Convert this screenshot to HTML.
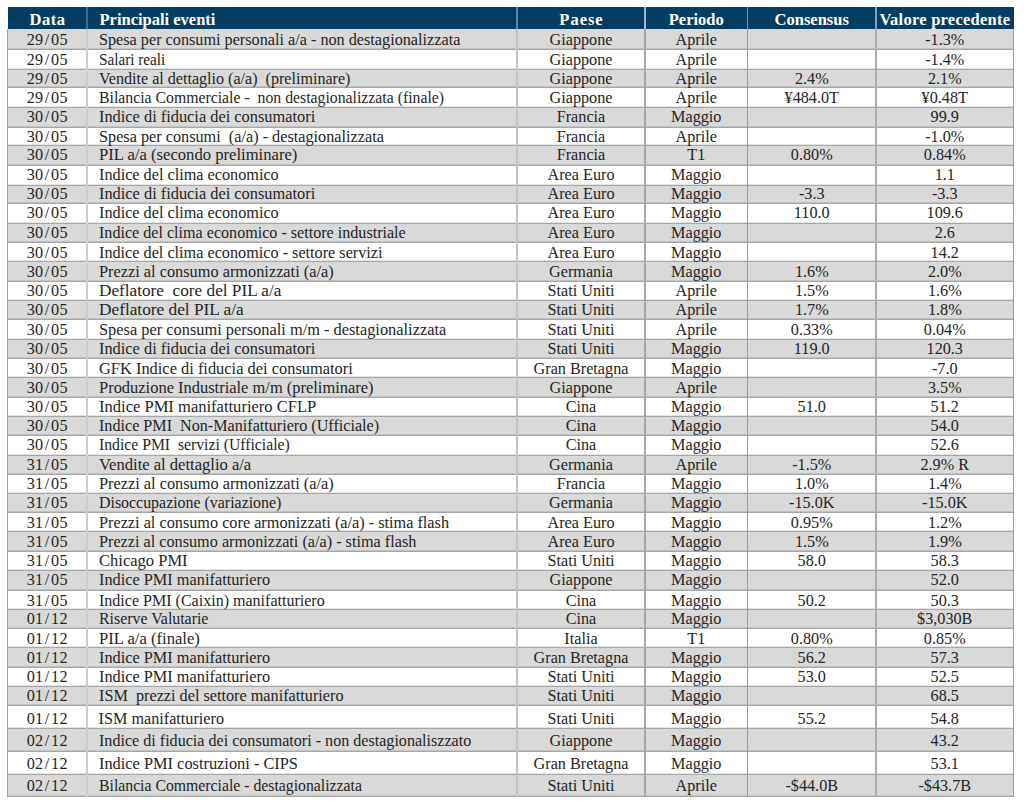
<!DOCTYPE html>
<html><head><meta charset="utf-8"><title>Calendario</title>
<style>
html,body{margin:0;padding:0;background:#fff;width:1024px;height:802px;overflow:hidden}
.t{position:absolute;white-space:pre;font-family:"Liberation Serif",serif;font-size:16.2px;line-height:20px;height:20px;color:#262626}
.h{position:absolute;white-space:pre;font-family:"Liberation Serif",serif;font-weight:bold;font-size:16.5px;line-height:20px;height:20px;color:#fff}
.c{text-align:center}
.ev{transform-origin:0 0}
.d{letter-spacing:.3px}
.sl{margin:0 1.5px 0 1.2px}
.r{position:absolute;left:7.5px;width:1006.0px}
.g{background:#d9d9d9}
.hl{position:absolute;left:7.5px;width:1006.0px;height:1px;background:#a6a6a6;box-shadow:0 -1px 0 rgba(0,0,0,.1)}
.vl{position:absolute;width:1px;background:#a6a6a6}
</style></head><body>

<div style="position:absolute;left:7.5px;top:7px;width:1006.0px;height:22px;background:#043d62"></div>
<div class="r g" style="top:29.00px;height:20.30px"></div>
<div class="r g" style="top:69.30px;height:18.30px"></div>
<div class="r g" style="top:107.50px;height:19.50px"></div>
<div class="r g" style="top:145.60px;height:20.00px"></div>
<div class="r g" style="top:185.00px;height:18.50px"></div>
<div class="r g" style="top:223.40px;height:19.50px"></div>
<div class="r g" style="top:261.60px;height:20.30px"></div>
<div class="r g" style="top:300.40px;height:19.20px"></div>
<div class="r g" style="top:339.10px;height:19.30px"></div>
<div class="r g" style="top:377.80px;height:19.50px"></div>
<div class="r g" style="top:416.00px;height:19.60px"></div>
<div class="r g" style="top:455.00px;height:19.40px"></div>
<div class="r g" style="top:493.75px;height:18.75px"></div>
<div class="r g" style="top:531.90px;height:19.35px"></div>
<div class="r g" style="top:570.60px;height:19.40px"></div>
<div class="r g" style="top:609.00px;height:19.50px"></div>
<div class="r g" style="top:647.90px;height:19.20px"></div>
<div class="r g" style="top:686.50px;height:19.20px"></div>
<div class="r g" style="top:728.00px;height:23.50px"></div>
<div class="r g" style="top:774.20px;height:22.10px"></div>
<div class="hl" style="top:48.80px"></div>
<div class="hl" style="top:68.80px"></div>
<div class="hl" style="top:87.10px"></div>
<div class="hl" style="top:107.00px"></div>
<div class="hl" style="top:126.50px"></div>
<div class="hl" style="top:145.10px"></div>
<div class="hl" style="top:165.10px"></div>
<div class="hl" style="top:184.50px"></div>
<div class="hl" style="top:203.00px"></div>
<div class="hl" style="top:222.90px"></div>
<div class="hl" style="top:242.40px"></div>
<div class="hl" style="top:261.10px"></div>
<div class="hl" style="top:281.40px"></div>
<div class="hl" style="top:299.90px"></div>
<div class="hl" style="top:319.10px"></div>
<div class="hl" style="top:338.60px"></div>
<div class="hl" style="top:357.90px"></div>
<div class="hl" style="top:377.30px"></div>
<div class="hl" style="top:396.80px"></div>
<div class="hl" style="top:415.50px"></div>
<div class="hl" style="top:435.10px"></div>
<div class="hl" style="top:454.50px"></div>
<div class="hl" style="top:473.90px"></div>
<div class="hl" style="top:493.25px"></div>
<div class="hl" style="top:512.00px"></div>
<div class="hl" style="top:531.40px"></div>
<div class="hl" style="top:550.75px"></div>
<div class="hl" style="top:570.10px"></div>
<div class="hl" style="top:589.50px"></div>
<div class="hl" style="top:608.50px"></div>
<div class="hl" style="top:628.00px"></div>
<div class="hl" style="top:647.40px"></div>
<div class="hl" style="top:666.60px"></div>
<div class="hl" style="top:686.00px"></div>
<div class="hl" style="top:705.20px"></div>
<div class="hl" style="top:727.50px"></div>
<div class="hl" style="top:751.00px"></div>
<div class="hl" style="top:773.70px"></div>
<div class="hl" style="top:795.80px"></div>
<div class="vl" style="left:7px;width:1px;top:29px;height:767.80px;background:#a0a0a0"></div>
<div class="vl" style="left:86px;width:2px;top:29px;height:767.80px;background:#cdcdcd"></div>
<div class="vl" style="left:516px;width:2px;top:29px;height:767.80px;background:#c4c4c4"></div>
<div class="vl" style="left:644px;width:2px;top:29px;height:767.80px;background:#a8a8a8"></div>
<div class="vl" style="left:747px;width:1px;top:29px;height:767.80px;background:#9a9a9a"></div>
<div class="vl" style="left:875px;width:2px;top:29px;height:767.80px;background:#ababab"></div>
<div class="vl" style="left:1013px;width:1px;top:29px;height:767.80px;background:#9c9c9c"></div>
<div class="vl" style="left:86px;width:2px;top:7px;height:22px;background:#3f6d96"></div>
<div class="vl" style="left:516px;width:2px;top:7px;height:22px;background:#5b86ad"></div>
<div class="vl" style="left:644px;width:2px;top:7px;height:22px;background:#9db8d0"></div>
<div class="vl" style="left:747px;width:1px;top:7px;height:22px;background:#6f96ba"></div>
<div class="vl" style="left:875px;width:2px;top:7px;height:22px;background:#7fa3c4"></div>
<div class="h c" style="left:7.5px;width:79.5px;top:9.83px;letter-spacing:0.6px;text-indent:0.6px">Data</div>
<div class="h" style="left:99.5px;top:9.83px">Principali eventi</div>
<div class="h c" style="left:517px;width:128px;top:9.83px;letter-spacing:1.0px;text-indent:1.0px">Paese</div>
<div class="h c" style="left:645px;width:102.5px;top:9.83px;letter-spacing:0px;text-indent:0px">Periodo</div>
<div class="h c" style="left:747.5px;width:128.5px;top:9.83px;letter-spacing:0px;text-indent:0px">Consensus</div>
<div class="h c" style="left:876px;width:137.5px;top:9.83px;letter-spacing:0.25px;text-indent:0.25px">Valore precedente</div>
<div class="t c d" style="left:7.5px;width:79.5px;top:29.53px">29<span class="sl">/</span>05</div>
<div class="t ev" style="left:98.6px;top:29.53px;transform:scaleX(1.0011)">Spesa per consumi personali a/a - non destagionalizzata</div>
<div class="t c" style="left:517px;width:128px;top:29.53px">Giappone</div>
<div class="t c" style="left:645px;width:102.5px;top:29.53px">Aprile</div>
<div class="t c" style="left:876px;width:137.5px;top:29.53px">-1.3%</div>
<div class="t c d" style="left:7.5px;width:79.5px;top:49.53px">29<span class="sl">/</span>05</div>
<div class="t ev" style="left:98.6px;top:49.53px;transform:scaleX(0.9391)">Salari reali</div>
<div class="t c" style="left:517px;width:128px;top:49.53px">Giappone</div>
<div class="t c" style="left:645px;width:102.5px;top:49.53px">Aprile</div>
<div class="t c" style="left:876px;width:137.5px;top:49.53px">-1.4%</div>
<div class="t c d" style="left:7.5px;width:79.5px;top:68.53px">29<span class="sl">/</span>05</div>
<div class="t ev" style="left:98.6px;top:68.53px;transform:scaleX(0.9937)">Vendite al dettaglio (a/a)  (preliminare)</div>
<div class="t c" style="left:517px;width:128px;top:68.53px">Giappone</div>
<div class="t c" style="left:645px;width:102.5px;top:68.53px">Aprile</div>
<div class="t c" style="left:747.5px;width:128.5px;top:68.53px">2.4%</div>
<div class="t c" style="left:876px;width:137.5px;top:68.53px">2.1%</div>
<div class="t c d" style="left:7.5px;width:79.5px;top:87.53px">29<span class="sl">/</span>05</div>
<div class="t ev" style="left:98.6px;top:87.53px;transform:scaleX(0.9744)">Bilancia Commerciale -  non destagionalizzata (finale)</div>
<div class="t c" style="left:517px;width:128px;top:87.53px">Giappone</div>
<div class="t c" style="left:645px;width:102.5px;top:87.53px">Aprile</div>
<div class="t c" style="left:747.5px;width:128.5px;top:87.53px">¥484.0T</div>
<div class="t c" style="left:876px;width:137.5px;top:87.53px">¥0.48T</div>
<div class="t c d" style="left:7.5px;width:79.5px;top:106.53px">30<span class="sl">/</span>05</div>
<div class="t ev" style="left:98.6px;top:106.53px;transform:scaleX(1.0104)">Indice di fiducia dei consumatori</div>
<div class="t c" style="left:517px;width:128px;top:106.53px">Francia</div>
<div class="t c" style="left:645px;width:102.5px;top:106.53px">Maggio</div>
<div class="t c" style="left:876px;width:137.5px;top:106.53px">99.9</div>
<div class="t c d" style="left:7.5px;width:79.5px;top:126.53px">30<span class="sl">/</span>05</div>
<div class="t ev" style="left:98.6px;top:126.53px;transform:scaleX(1.0028)">Spesa per consumi  (a/a) - destagionalizzata</div>
<div class="t c" style="left:517px;width:128px;top:126.53px">Francia</div>
<div class="t c" style="left:645px;width:102.5px;top:126.53px">Aprile</div>
<div class="t c" style="left:876px;width:137.5px;top:126.53px">-1.0%</div>
<div class="t c d" style="left:7.5px;width:79.5px;top:145.03px">30<span class="sl">/</span>05</div>
<div class="t ev" style="left:98.6px;top:145.03px;transform:scaleX(1.0271)">PIL a/a (secondo preliminare)</div>
<div class="t c" style="left:517px;width:128px;top:145.03px">Francia</div>
<div class="t c" style="left:645px;width:102.5px;top:145.03px">T1</div>
<div class="t c" style="left:747.5px;width:128.5px;top:145.03px">0.80%</div>
<div class="t c" style="left:876px;width:137.5px;top:145.03px">0.84%</div>
<div class="t c d" style="left:7.5px;width:79.5px;top:164.53px">30<span class="sl">/</span>05</div>
<div class="t ev" style="left:98.6px;top:164.53px;transform:scaleX(1.0022)">Indice del clima economico</div>
<div class="t c" style="left:517px;width:128px;top:164.53px">Area Euro</div>
<div class="t c" style="left:645px;width:102.5px;top:164.53px">Maggio</div>
<div class="t c" style="left:876px;width:137.5px;top:164.53px">1.1</div>
<div class="t c d" style="left:7.5px;width:79.5px;top:183.53px">30<span class="sl">/</span>05</div>
<div class="t ev" style="left:98.6px;top:183.53px;transform:scaleX(1.0104)">Indice di fiducia dei consumatori</div>
<div class="t c" style="left:517px;width:128px;top:183.53px">Area Euro</div>
<div class="t c" style="left:645px;width:102.5px;top:183.53px">Maggio</div>
<div class="t c" style="left:747.5px;width:128.5px;top:183.53px">-3.3</div>
<div class="t c" style="left:876px;width:137.5px;top:183.53px">-3.3</div>
<div class="t c d" style="left:7.5px;width:79.5px;top:203.03px">30<span class="sl">/</span>05</div>
<div class="t ev" style="left:98.6px;top:203.03px;transform:scaleX(1.0022)">Indice del clima economico</div>
<div class="t c" style="left:517px;width:128px;top:203.03px">Area Euro</div>
<div class="t c" style="left:645px;width:102.5px;top:203.03px">Maggio</div>
<div class="t c" style="left:747.5px;width:128.5px;top:203.03px">110.0</div>
<div class="t c" style="left:876px;width:137.5px;top:203.03px">109.6</div>
<div class="t c d" style="left:7.5px;width:79.5px;top:223.03px">30<span class="sl">/</span>05</div>
<div class="t ev" style="left:98.6px;top:223.03px;transform:scaleX(0.9948)">Indice del clima economico - settore industriale</div>
<div class="t c" style="left:517px;width:128px;top:223.03px">Area Euro</div>
<div class="t c" style="left:645px;width:102.5px;top:223.03px">Maggio</div>
<div class="t c" style="left:876px;width:137.5px;top:223.03px">2.6</div>
<div class="t c d" style="left:7.5px;width:79.5px;top:242.53px">30<span class="sl">/</span>05</div>
<div class="t ev" style="left:98.6px;top:242.53px;transform:scaleX(1.0014)">Indice del clima economico - settore servizi</div>
<div class="t c" style="left:517px;width:128px;top:242.53px">Area Euro</div>
<div class="t c" style="left:645px;width:102.5px;top:242.53px">Maggio</div>
<div class="t c" style="left:876px;width:137.5px;top:242.53px">14.2</div>
<div class="t c d" style="left:7.5px;width:79.5px;top:261.53px">30<span class="sl">/</span>05</div>
<div class="t ev" style="left:98.6px;top:261.53px;transform:scaleX(1.0078)">Prezzi al consumo armonizzati (a/a)</div>
<div class="t c" style="left:517px;width:128px;top:261.53px">Germania</div>
<div class="t c" style="left:645px;width:102.5px;top:261.53px">Maggio</div>
<div class="t c" style="left:747.5px;width:128.5px;top:261.53px">1.6%</div>
<div class="t c" style="left:876px;width:137.5px;top:261.53px">2.0%</div>
<div class="t c d" style="left:7.5px;width:79.5px;top:280.53px">30<span class="sl">/</span>05</div>
<div class="t ev" style="left:98.6px;top:280.53px;transform:scaleX(1.0635)">Deflatore  core del PIL a/a</div>
<div class="t c" style="left:517px;width:128px;top:280.53px">Stati Uniti</div>
<div class="t c" style="left:645px;width:102.5px;top:280.53px">Aprile</div>
<div class="t c" style="left:747.5px;width:128.5px;top:280.53px">1.5%</div>
<div class="t c" style="left:876px;width:137.5px;top:280.53px">1.6%</div>
<div class="t c d" style="left:7.5px;width:79.5px;top:299.53px">30<span class="sl">/</span>05</div>
<div class="t ev" style="left:98.6px;top:299.53px;transform:scaleX(1.0672)">Deflatore del PIL a/a</div>
<div class="t c" style="left:517px;width:128px;top:299.53px">Stati Uniti</div>
<div class="t c" style="left:645px;width:102.5px;top:299.53px">Aprile</div>
<div class="t c" style="left:747.5px;width:128.5px;top:299.53px">1.7%</div>
<div class="t c" style="left:876px;width:137.5px;top:299.53px">1.8%</div>
<div class="t c d" style="left:7.5px;width:79.5px;top:319.53px">30<span class="sl">/</span>05</div>
<div class="t ev" style="left:98.6px;top:319.53px;transform:scaleX(1.0111)">Spesa per consumi personali m/m - destagionalizzata</div>
<div class="t c" style="left:517px;width:128px;top:319.53px">Stati Uniti</div>
<div class="t c" style="left:645px;width:102.5px;top:319.53px">Aprile</div>
<div class="t c" style="left:747.5px;width:128.5px;top:319.53px">0.33%</div>
<div class="t c" style="left:876px;width:137.5px;top:319.53px">0.04%</div>
<div class="t c d" style="left:7.5px;width:79.5px;top:338.53px">30<span class="sl">/</span>05</div>
<div class="t ev" style="left:98.6px;top:338.53px;transform:scaleX(1.0104)">Indice di fiducia dei consumatori</div>
<div class="t c" style="left:517px;width:128px;top:338.53px">Stati Uniti</div>
<div class="t c" style="left:645px;width:102.5px;top:338.53px">Maggio</div>
<div class="t c" style="left:747.5px;width:128.5px;top:338.53px">119.0</div>
<div class="t c" style="left:876px;width:137.5px;top:338.53px">120.3</div>
<div class="t c d" style="left:7.5px;width:79.5px;top:358.53px">30<span class="sl">/</span>05</div>
<div class="t ev" style="left:98.6px;top:358.53px;transform:scaleX(1.0137)">GFK Indice di fiducia dei consumatori</div>
<div class="t c" style="left:517px;width:128px;top:358.53px">Gran Bretagna</div>
<div class="t c" style="left:645px;width:102.5px;top:358.53px">Maggio</div>
<div class="t c" style="left:876px;width:137.5px;top:358.53px">-7.0</div>
<div class="t c d" style="left:7.5px;width:79.5px;top:377.53px">30<span class="sl">/</span>05</div>
<div class="t ev" style="left:98.6px;top:377.53px;transform:scaleX(1.0164)">Produzione Industriale m/m (preliminare)</div>
<div class="t c" style="left:517px;width:128px;top:377.53px">Giappone</div>
<div class="t c" style="left:645px;width:102.5px;top:377.53px">Aprile</div>
<div class="t c" style="left:876px;width:137.5px;top:377.53px">3.5%</div>
<div class="t c d" style="left:7.5px;width:79.5px;top:396.53px">30<span class="sl">/</span>05</div>
<div class="t ev" style="left:98.6px;top:396.53px;transform:scaleX(1.0218)">Indice PMI manifatturiero CFLP</div>
<div class="t c" style="left:517px;width:128px;top:396.53px">Cina</div>
<div class="t c" style="left:645px;width:102.5px;top:396.53px">Maggio</div>
<div class="t c" style="left:747.5px;width:128.5px;top:396.53px">51.0</div>
<div class="t c" style="left:876px;width:137.5px;top:396.53px">51.2</div>
<div class="t c d" style="left:7.5px;width:79.5px;top:416.03px">30<span class="sl">/</span>05</div>
<div class="t ev" style="left:98.6px;top:416.03px;transform:scaleX(0.9964)">Indice PMI  Non-Manifatturiero (Ufficiale)</div>
<div class="t c" style="left:517px;width:128px;top:416.03px">Cina</div>
<div class="t c" style="left:645px;width:102.5px;top:416.03px">Maggio</div>
<div class="t c" style="left:876px;width:137.5px;top:416.03px">54.0</div>
<div class="t c d" style="left:7.5px;width:79.5px;top:435.03px">30<span class="sl">/</span>05</div>
<div class="t ev" style="left:98.6px;top:435.03px;transform:scaleX(0.9703)">Indice PMI  servizi (Ufficiale)</div>
<div class="t c" style="left:517px;width:128px;top:435.03px">Cina</div>
<div class="t c" style="left:645px;width:102.5px;top:435.03px">Maggio</div>
<div class="t c" style="left:876px;width:137.5px;top:435.03px">52.6</div>
<div class="t c d" style="left:7.5px;width:79.5px;top:454.53px">31<span class="sl">/</span>05</div>
<div class="t ev" style="left:98.6px;top:454.53px;transform:scaleX(1.0230)">Vendite al dettaglio a/a</div>
<div class="t c" style="left:517px;width:128px;top:454.53px">Germania</div>
<div class="t c" style="left:645px;width:102.5px;top:454.53px">Aprile</div>
<div class="t c" style="left:747.5px;width:128.5px;top:454.53px">-1.5%</div>
<div class="t c" style="left:876px;width:137.5px;top:454.53px">2.9% R</div>
<div class="t c d" style="left:7.5px;width:79.5px;top:473.53px">31<span class="sl">/</span>05</div>
<div class="t ev" style="left:98.6px;top:473.53px;transform:scaleX(1.0078)">Prezzi al consumo armonizzati (a/a)</div>
<div class="t c" style="left:517px;width:128px;top:473.53px">Francia</div>
<div class="t c" style="left:645px;width:102.5px;top:473.53px">Maggio</div>
<div class="t c" style="left:747.5px;width:128.5px;top:473.53px">1.0%</div>
<div class="t c" style="left:876px;width:137.5px;top:473.53px">1.4%</div>
<div class="t c d" style="left:7.5px;width:79.5px;top:493.03px">31<span class="sl">/</span>05</div>
<div class="t ev" style="left:98.6px;top:493.03px;transform:scaleX(0.9826)">Disoccupazione (variazione)</div>
<div class="t c" style="left:517px;width:128px;top:493.03px">Germania</div>
<div class="t c" style="left:645px;width:102.5px;top:493.03px">Maggio</div>
<div class="t c" style="left:747.5px;width:128.5px;top:493.03px">-15.0K</div>
<div class="t c" style="left:876px;width:137.5px;top:493.03px">-15.0K</div>
<div class="t c d" style="left:7.5px;width:79.5px;top:512.53px">31<span class="sl">/</span>05</div>
<div class="t ev" style="left:98.6px;top:512.53px;transform:scaleX(1.0035)">Prezzi al consumo core armonizzati (a/a) - stima flash</div>
<div class="t c" style="left:517px;width:128px;top:512.53px">Area Euro</div>
<div class="t c" style="left:645px;width:102.5px;top:512.53px">Maggio</div>
<div class="t c" style="left:747.5px;width:128.5px;top:512.53px">0.95%</div>
<div class="t c" style="left:876px;width:137.5px;top:512.53px">1.2%</div>
<div class="t c d" style="left:7.5px;width:79.5px;top:531.53px">31<span class="sl">/</span>05</div>
<div class="t ev" style="left:98.6px;top:531.53px;transform:scaleX(1.0013)">Prezzi al consumo armonizzati (a/a) - stima flash</div>
<div class="t c" style="left:517px;width:128px;top:531.53px">Area Euro</div>
<div class="t c" style="left:645px;width:102.5px;top:531.53px">Maggio</div>
<div class="t c" style="left:747.5px;width:128.5px;top:531.53px">1.5%</div>
<div class="t c" style="left:876px;width:137.5px;top:531.53px">1.9%</div>
<div class="t c d" style="left:7.5px;width:79.5px;top:550.53px">31<span class="sl">/</span>05</div>
<div class="t ev" style="left:98.6px;top:550.53px;transform:scaleX(1.0212)">Chicago PMI</div>
<div class="t c" style="left:517px;width:128px;top:550.53px">Stati Uniti</div>
<div class="t c" style="left:645px;width:102.5px;top:550.53px">Maggio</div>
<div class="t c" style="left:747.5px;width:128.5px;top:550.53px">58.0</div>
<div class="t c" style="left:876px;width:137.5px;top:550.53px">58.3</div>
<div class="t c d" style="left:7.5px;width:79.5px;top:569.53px">31<span class="sl">/</span>05</div>
<div class="t ev" style="left:98.6px;top:569.53px;transform:scaleX(1.0071)">Indice PMI manifatturiero</div>
<div class="t c" style="left:517px;width:128px;top:569.53px">Giappone</div>
<div class="t c" style="left:645px;width:102.5px;top:569.53px">Maggio</div>
<div class="t c" style="left:876px;width:137.5px;top:569.53px">52.0</div>
<div class="t c d" style="left:7.5px;width:79.5px;top:590.53px">31<span class="sl">/</span>05</div>
<div class="t ev" style="left:98.6px;top:590.53px;transform:scaleX(0.9903)">Indice PMI (Caixin) manifatturiero</div>
<div class="t c" style="left:517px;width:128px;top:590.53px">Cina</div>
<div class="t c" style="left:645px;width:102.5px;top:590.53px">Maggio</div>
<div class="t c" style="left:747.5px;width:128.5px;top:590.53px">50.2</div>
<div class="t c" style="left:876px;width:137.5px;top:590.53px">50.3</div>
<div class="t c d" style="left:7.5px;width:79.5px;top:608.53px">01<span class="sl">/</span>12</div>
<div class="t ev" style="left:98.6px;top:608.53px;transform:scaleX(0.9800)">Riserve Valutarie</div>
<div class="t c" style="left:517px;width:128px;top:608.53px">Cina</div>
<div class="t c" style="left:645px;width:102.5px;top:608.53px">Maggio</div>
<div class="t c" style="left:876px;width:137.5px;top:608.53px">$3,030B</div>
<div class="t c d" style="left:7.5px;width:79.5px;top:628.53px">01<span class="sl">/</span>12</div>
<div class="t ev" style="left:98.6px;top:628.53px;transform:scaleX(1.0268)">PIL a/a (finale)</div>
<div class="t c" style="left:517px;width:128px;top:628.53px">Italia</div>
<div class="t c" style="left:645px;width:102.5px;top:628.53px">T1</div>
<div class="t c" style="left:747.5px;width:128.5px;top:628.53px">0.80%</div>
<div class="t c" style="left:876px;width:137.5px;top:628.53px">0.85%</div>
<div class="t c d" style="left:7.5px;width:79.5px;top:647.53px">01<span class="sl">/</span>12</div>
<div class="t ev" style="left:98.6px;top:647.53px;transform:scaleX(1.0071)">Indice PMI manifatturiero</div>
<div class="t c" style="left:517px;width:128px;top:647.53px">Gran Bretagna</div>
<div class="t c" style="left:645px;width:102.5px;top:647.53px">Maggio</div>
<div class="t c" style="left:747.5px;width:128.5px;top:647.53px">56.2</div>
<div class="t c" style="left:876px;width:137.5px;top:647.53px">57.3</div>
<div class="t c d" style="left:7.5px;width:79.5px;top:666.53px">01<span class="sl">/</span>12</div>
<div class="t ev" style="left:98.6px;top:666.53px;transform:scaleX(1.0071)">Indice PMI manifatturiero</div>
<div class="t c" style="left:517px;width:128px;top:666.53px">Stati Uniti</div>
<div class="t c" style="left:645px;width:102.5px;top:666.53px">Maggio</div>
<div class="t c" style="left:747.5px;width:128.5px;top:666.53px">53.0</div>
<div class="t c" style="left:876px;width:137.5px;top:666.53px">52.5</div>
<div class="t c d" style="left:7.5px;width:79.5px;top:685.53px">01<span class="sl">/</span>12</div>
<div class="t ev" style="left:98.6px;top:685.53px;transform:scaleX(1.0017)">ISM  prezzi del settore manifatturiero</div>
<div class="t c" style="left:517px;width:128px;top:685.53px">Stati Uniti</div>
<div class="t c" style="left:645px;width:102.5px;top:685.53px">Maggio</div>
<div class="t c" style="left:876px;width:137.5px;top:685.53px">68.5</div>
<div class="t c d" style="left:7.5px;width:79.5px;top:708.53px">01<span class="sl">/</span>12</div>
<div class="t ev" style="left:98.6px;top:708.53px;transform:scaleX(1.0000)">ISM manifatturiero</div>
<div class="t c" style="left:517px;width:128px;top:708.53px">Stati Uniti</div>
<div class="t c" style="left:645px;width:102.5px;top:708.53px">Maggio</div>
<div class="t c" style="left:747.5px;width:128.5px;top:708.53px">55.2</div>
<div class="t c" style="left:876px;width:137.5px;top:708.53px">54.8</div>
<div class="t c d" style="left:7.5px;width:79.5px;top:730.53px">02<span class="sl">/</span>12</div>
<div class="t ev" style="left:98.6px;top:730.53px;transform:scaleX(0.9941)">Indice di fiducia dei consumatori - non destagionaliszzato</div>
<div class="t c" style="left:517px;width:128px;top:730.53px">Giappone</div>
<div class="t c" style="left:645px;width:102.5px;top:730.53px">Maggio</div>
<div class="t c" style="left:876px;width:137.5px;top:730.53px">43.2</div>
<div class="t c d" style="left:7.5px;width:79.5px;top:753.53px">02<span class="sl">/</span>12</div>
<div class="t ev" style="left:98.6px;top:753.53px;transform:scaleX(1.0103)">Indice PMI costruzioni - CIPS</div>
<div class="t c" style="left:517px;width:128px;top:753.53px">Gran Bretagna</div>
<div class="t c" style="left:645px;width:102.5px;top:753.53px">Maggio</div>
<div class="t c" style="left:876px;width:137.5px;top:753.53px">53.1</div>
<div class="t c d" style="left:7.5px;width:79.5px;top:775.53px">02<span class="sl">/</span>12</div>
<div class="t ev" style="left:98.6px;top:775.53px;transform:scaleX(0.9732)">Bilancia Commerciale - destagionalizzata</div>
<div class="t c" style="left:517px;width:128px;top:775.53px">Stati Uniti</div>
<div class="t c" style="left:645px;width:102.5px;top:775.53px">Aprile</div>
<div class="t c" style="left:747.5px;width:128.5px;top:775.53px">-$44.0B</div>
<div class="t c" style="left:876px;width:137.5px;top:775.53px">-$43.7B</div>
</body></html>
